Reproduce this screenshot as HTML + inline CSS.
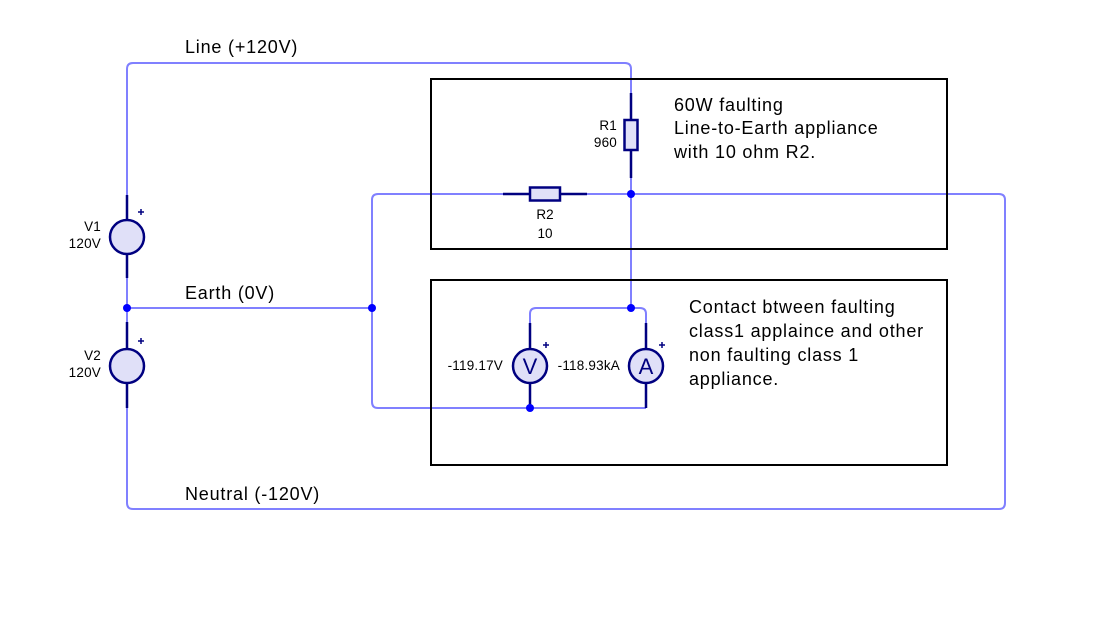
<!DOCTYPE html>
<html><head><meta charset="utf-8"><style>
html,body{margin:0;padding:0;background:#fff;}
svg{display:block;}
text{font-family:"Liberation Sans",Arial,sans-serif;fill:#000;}
</style></head><body>
<svg width="1099" height="619" viewBox="0 0 1099 619" xmlns="http://www.w3.org/2000/svg">
<g fill="none" stroke="#8080ff" stroke-width="2">
<path d="M127,195 V69 Q127,63 133,63 H625 Q631,63 631,69 V93"/>
<path d="M127,278 V322"/>
<path d="M127,408 V503 Q127,509 133,509 H999 Q1005,509 1005,503 V200 Q1005,194 999,194 H587"/>
<path d="M503,194 H378 Q372,194 372,200 V402 Q372,408 378,408 H646"/>
<path d="M127,308 H372"/>
<path d="M631,178 V308"/>
<path d="M530,323 V314 Q530,308 536,308 H640 Q646,308 646,314 V323"/>
</g>
<g stroke="#000080" stroke-width="2.5" fill="#e0e0f8">
<path d="M127,195 V278 M127,322 V408 M631,93 V178 M503,194 H587 M530,323 V408 M646,323 V408" fill="none"/>
<circle cx="127" cy="237" r="17"/>
<circle cx="127" cy="366" r="17"/>
<rect x="624.5" y="120" width="13" height="30"/>
<rect x="530" y="187.5" width="30" height="13"/>
<circle cx="530" cy="366" r="17"/>
<circle cx="646" cy="366" r="17"/>
</g>
<g stroke="#000080" stroke-width="1.5">
<path d="M138,212 h6 M141,209 v6 M138,341 h6 M141,338 v6 M543,345 h6 M546,342 v6 M659,345 h6 M662,342 v6"/>
</g>
<g fill="#0000ff">
<circle cx="127" cy="308" r="4"/><circle cx="372" cy="308" r="4"/>
<circle cx="631" cy="194" r="4"/><circle cx="631" cy="308" r="4"/>
<circle cx="530" cy="408" r="4"/>
</g>
<g fill="none" stroke="#000" stroke-width="2">
<rect x="431" y="79" width="516" height="170"/>
<rect x="431" y="280" width="516" height="185"/>
</g>
<text x="530" y="374" font-size="22" text-anchor="middle" style="fill:#000080">V</text>
<text x="646" y="374" font-size="22" text-anchor="middle" style="fill:#000080">A</text>
<g font-size="13.5" text-anchor="end" letter-spacing="0.2">
<text x="101" y="231">V1</text><text x="101" y="248">120V</text>
<text x="101" y="360">V2</text><text x="101" y="377">120V</text>
<text x="617" y="130">R1</text><text x="617" y="147">960</text>
<text x="503" y="370">-119.17V</text><text x="620" y="370">-118.93kA</text>
</g>
<g font-size="13.5" text-anchor="middle">
<text x="545" y="219">R2</text><text x="545" y="238">10</text>
</g>
<g font-size="18" letter-spacing="0.8">
<text x="185" y="53">Line (+120V)</text>
<text x="185" y="299">Earth (0V)</text>
<text x="185" y="500">Neutral (-120V)</text>
<text x="674" y="111">60W faulting</text>
<text x="674" y="134">Line-to-Earth appliance</text>
<text x="674" y="158">with 10 ohm R2.</text>
<text x="689" y="313">Contact btween faulting</text>
<text x="689" y="337">class1 applaince and other</text>
<text x="689" y="361">non faulting class 1</text>
<text x="689" y="385">appliance.</text>
</g>
</svg>
</body></html>
